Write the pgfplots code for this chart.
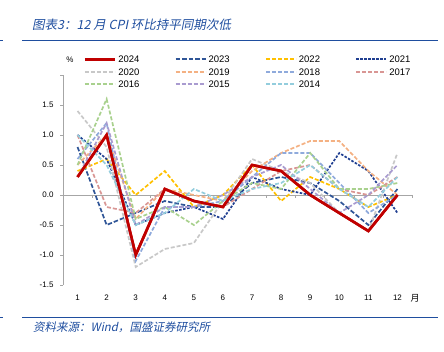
\documentclass[border=0pt]{standalone}
\usepackage{pgfplots}
\usepackage{pgfplotstable}
\pgfplotsset{compat=1.18}
\usepackage{fontspec}
\setmainfont{Liberation Sans}
\newfontfamily\cjk[FakeSlant=0.2]{Noto Sans CJK SC}
\newfontfamily\cjkup{Noto Sans CJK SC}
\definecolor{c24}{HTML}{C00000}
\definecolor{c23}{HTML}{2F5597}
\definecolor{c22}{HTML}{FFC000}
\definecolor{c21}{HTML}{203F91}
\definecolor{c20}{HTML}{C8C8C8}
\definecolor{c19}{HTML}{F4B183}
\definecolor{c18}{HTML}{8FAADC}
\definecolor{c17}{HTML}{D99694}
\definecolor{c16}{HTML}{A9D18E}
\definecolor{c15}{HTML}{A99BD0}
\definecolor{c14}{HTML}{93CDDD}
\definecolor{ttl}{HTML}{1F4E9F}
\pgfplotstableread{
m  a24  a23  a22  a21  a20  a19  a18  a17  a16  a15  a14
1  0.3  0.8  0.4  1.0  1.4  0.5  0.6  1.0  0.5  0.3  1.0
2  1.0 -0.5  0.6  0.6  0.8  1.0  1.2 -0.2  1.6  1.2  0.5
3 -1.0 -0.3  0.0 -0.5 -1.2 -0.4 -1.1 -0.3 -0.4 -0.5 -0.5
4  0.1 -0.1  0.4 -0.3 -0.9  0.1 -0.2  0.1 -0.2 -0.2 -0.3
5 -0.1 -0.2 -0.2 -0.2 -0.8  0.0 -0.2 -0.1 -0.5 -0.2  0.1
6 -0.2 -0.2  0.0 -0.4 -0.1 -0.1 -0.1 -0.2 -0.1  0.0 -0.1
7  0.5  0.2  0.5  0.3  0.6  0.4  0.3  0.1  0.2  0.3  0.1
8  0.4  0.3 -0.1  0.1  0.4  0.7  0.7  0.4  0.1  0.5  0.2
9  0.0  0.2  0.3  0.0  0.2  0.9  0.7  0.5  0.7  0.1  0.5
10 -0.3 -0.1  0.1  0.7 -0.3  0.9  0.2  0.1  0.1 -0.3  0.1
11 -0.6 -0.5 -0.2  0.4 -0.6  0.4 -0.3  0.0  0.1  0.0 -0.2
12  0.0  0.1  0.0 -0.3  0.7  0.0  0.0  0.3  0.2  0.5  0.3
}\data
\tikzset{dsh/.style={line width=1.7pt, dash pattern=on 4pt off 2pt}}
\begin{document}
\begin{tikzpicture}[x=1pt,y=1pt]
\useasboundingbox (0,0) rectangle (444,352);
\node[anchor=west,font=\cjk\fontsize{12.5}{14}\selectfont,text=ttl,inner sep=0] at (32,327) {图表3：12 月 CPI 环比持平同期次低};
\draw[ttl,line width=1.5] (22,311.5) -- (438,311.5);
\draw[ttl,line width=1.5] (0,311.5) -- (3,311.5);
\draw[ttl,line width=1.5] (22,34.3) -- (438,34.3);
\draw[ttl,line width=1.5] (0,34.3) -- (3,34.3);
\node[anchor=west,font=\cjk\fontsize{11.5}{13}\selectfont,text=ttl,inner sep=0] at (33,24.3) {资料来源：Wind，国盛证券研究所};
\begin{axis}[at={(63pt,67pt)}, anchor=south west, scale only axis, width=349pt, height=210pt,
  xmin=0.5, xmax=12.5, ymin=-1.5, ymax=2,
  axis y line=left, axis x line=bottom,
  x axis line style={draw=none},
  y axis line style={-, draw=gray!70, line width=0.6pt},
  xtick={1,...,12}, major x tick style={draw=none},
  ytick={-1.5,-1,-0.5,0,0.5,1,1.5,2},
  yticklabels={-1.5,-1.0,-0.5,0.0,0.5,1.0,1.5,},
  y tick style={draw=gray!70, line width=0.6pt},
  tick align=outside, major tick length=3pt,
  /pgf/number format/assume math mode=true,
  xticklabel style={font=\fontsize{8}{9}\selectfont, yshift=-3pt},
  yticklabel style={font=\fontsize{8}{9}\selectfont, xshift=-3pt},
  legend columns=4,
  legend cell align=left,
  legend style={at={(axis description cs:0.05,1.115)}, anchor=north west, draw=none, fill=none,
    font=\fontsize{9.5}{11}\selectfont, row sep=0pt,
    nodes={text height=6.8pt, text depth=0pt, inner ysep=2.85pt},
    /tikz/every even column/.append style={column sep=33.5pt}},
  legend image code/.code={\draw[#1] (0pt,0pt) -- (30pt,0pt);},
  clip=false
]
\draw[gray!70, line width=0.6pt] (axis cs:0.5,0) -- (axis cs:12.5,0);
\pgfplotsinvokeforeach{0.5,1.5,2.5,3.5,4.5,5.5,6.5,7.5,8.5,9.5,10.5,11.5,12.5}{
  \draw[gray!70, line width=0.6pt] (axis cs:#1,0) -- ++(0pt,-3pt);
}
\addplot[c24, solid, line width=2.6pt] table[x=m,y=a24] {\data};
\addlegendentry{2024}
\addplot[c23, dsh, dash pattern=on 4.5pt off 2pt] table[x=m,y=a23] {\data};
\addlegendentry{2023}
\addplot[c22, dsh] table[x=m,y=a22] {\data};
\addlegendentry{2022}
\addplot[c21, dsh, dash pattern=on 2.5pt off 1.5pt] table[x=m,y=a21] {\data};
\addlegendentry{2021}
\addplot[c20, dsh] table[x=m,y=a20] {\data};
\addlegendentry{2020}
\addplot[c19, dsh] table[x=m,y=a19] {\data};
\addlegendentry{2019}
\addplot[c18, dsh] table[x=m,y=a18] {\data};
\addlegendentry{2018}
\addplot[c17, dsh] table[x=m,y=a17] {\data};
\addlegendentry{2017}
\addplot[c16, dsh] table[x=m,y=a16] {\data};
\addlegendentry{2016}
\addplot[c15, dsh] table[x=m,y=a15] {\data};
\addlegendentry{2015}
\addplot[c14, dsh] table[x=m,y=a14] {\data};
\addlegendentry{2014}
\addplot[c24, solid, line width=2.6pt, forget plot] table[x=m,y=a24] {\data};
\end{axis}
\node[font=\fontsize{8}{9}\selectfont] at (70,292) {\%};
\node[font=\cjkup\fontsize{9}{10}\selectfont] at (415,54) {月};
\end{tikzpicture}
\end{document}
